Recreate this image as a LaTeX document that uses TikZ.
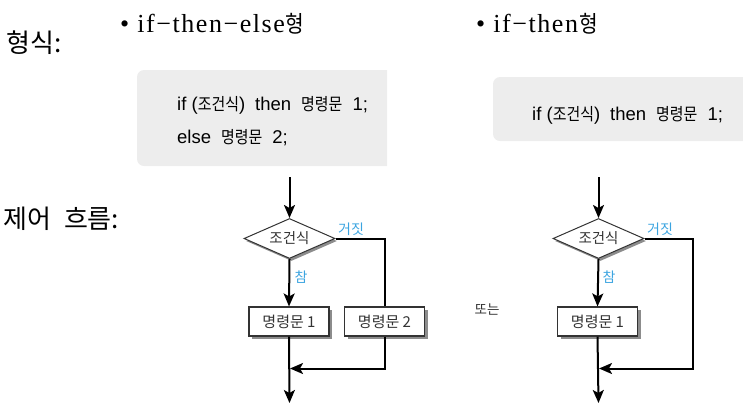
\documentclass[tikz,border=0pt]{standalone}
\usepackage{fontspec}
\newfontfamily\kr{Noto Sans CJK KR}
\newfontfamily\krn[FakeStretch=0.88]{Noto Sans CJK KR}
\newfontfamily\arf{Liberation Sans}
\newfontfamily\tmf[LetterSpace=6]{Liberation Serif}
\usetikzlibrary{shapes.geometric,shadows,arrows.meta}
\definecolor{codebg}{HTML}{EDEDED}
\definecolor{lblue}{HTML}{3BA4E0}
\definecolor{dgray}{HTML}{333333}
\newcommand\krc[1]{{\krn\fontsize{17}{16}\selectfont #1}}
\newcommand\gp{\hspace{10pt}}
\tikzset{
  flowline/.style={line width=2pt,black},
  flowarrow/.style={flowline,-{Stealth[length=13pt,width=11pt,inset=3pt]}},
  stmtbox/.style={draw=dgray,line width=1.1pt,fill=white,minimum width=80pt,minimum height=29pt,inner sep=0pt,
     text=dgray,font=\kr\fontsize{15}{15}\selectfont,
     drop shadow={shadow xshift=3pt,shadow yshift=-3pt,fill=black!45,opacity=1}},
  condbox/.style={diamond,draw=dgray,line width=1pt,fill=white,minimum width=91pt,minimum height=40pt,inner sep=0pt,aspect=2.25,
     text=dgray,font=\kr\fontsize{14.5}{14}\selectfont,
     drop shadow={shadow xshift=2pt,shadow yshift=-2.5pt,fill=black!45,opacity=1}},
  bluelbl/.style={text=lblue,font=\kr\fontsize{14}{14}\selectfont,inner sep=0pt},
  codetext/.style={anchor=base west,inner sep=0pt,font=\arf\fontsize{18.5}{18}\selectfont},
  headtext/.style={anchor=base west,inner sep=0pt,font=\tmf\fontsize{26}{26}\selectfont},
  bigkr/.style={anchor=west,inner sep=0pt,font=\kr\fontsize{26}{26}\selectfont}
}
\begin{document}
\begin{tikzpicture}[x=1pt,y=-1pt]
\useasboundingbox (0,0) rectangle (743,416);
% left labels
\node[bigkr] (lform) at (6,43) {형식:};
\node[bigkr] (lflow) at (3,219) {제어\hspace{13pt}흐름:};
% headers
\node[headtext] (h1) at (120,32) {• if−then−else\hspace{1pt}{\krn\fontsize{23}{23}\selectfont 형}};
\node[headtext] (h2) at (476,32) {• if−then\hspace{1pt}{\krn\fontsize{23}{23}\selectfont 형}};
% code backgrounds
\begin{scope}
\clip (0,0) rectangle (387,416);
\fill[codebg,rounded corners=7pt] (137,70) rectangle (420,166);
\end{scope}
\begin{scope}
\clip (0,0) rectangle (743,416);
\fill[codebg,rounded corners=7pt] (493,77) rectangle (780,141);
\end{scope}
\node[codetext] (c1) at (177,110) {if (\krc{조건식})\gp then\gp\krc{명령문}\gp 1;};
\node[codetext] (c2) at (177,143) {else\gp\krc{명령문}\gp 2;};
\node[codetext] (c3) at (532,120) {if (\krc{조건식})\gp then\gp\krc{명령문}\gp 1;};
% chart 1
\coordinate (s1) at (289.5,177);
\node[condbox] (d1) at (289.5,238.5) {조건식};
\node[stmtbox] (b1) at (289,321.5) {명령문 1};
\node[stmtbox] (b2) at (384.5,321.5) {명령문 2};
\coordinate (j1) at (290,368.5);
\coordinate (e1) at (289.5,403);
\draw[flowarrow] (s1) -- (d1.north);
\draw[flowline] (d1.east) -| (b2.north);
\draw[flowarrow] (d1.south) -- (b1.north);
\draw[flowarrow] (b1.south) -- (e1);
\draw[flowarrow] (b2.south) |- (j1);
\node[bluelbl] (f1) at (351,229) {거짓};
\node[bluelbl] (t1) at (301,277) {참};
% or
\node[inner sep=0pt,text=dgray,font=\kr\fontsize{13.5}{13}\selectfont] (or) at (487,310) {또는};
% chart 2
\coordinate (s2) at (598.5,177);
\node[condbox] (d2) at (598.5,238.5) {조건식};
\node[stmtbox] (b3) at (597.5,321.5) {명령문 1};
\coordinate (r2) at (693,238.5);
\coordinate (j2) at (599,368.5);
\coordinate (e2) at (598.5,403);
\draw[flowarrow] (s2) -- (d2.north);
\draw[flowarrow] (d2.south) -- (b3.north);
\draw[flowarrow] (b3.south) -- (e2);
\draw[flowarrow] (d2.east) -- (r2) |- (j2);
\node[bluelbl] (f2) at (660,229) {거짓};
\node[bluelbl] (t2) at (609,277) {참};
\end{tikzpicture}
\end{document}
